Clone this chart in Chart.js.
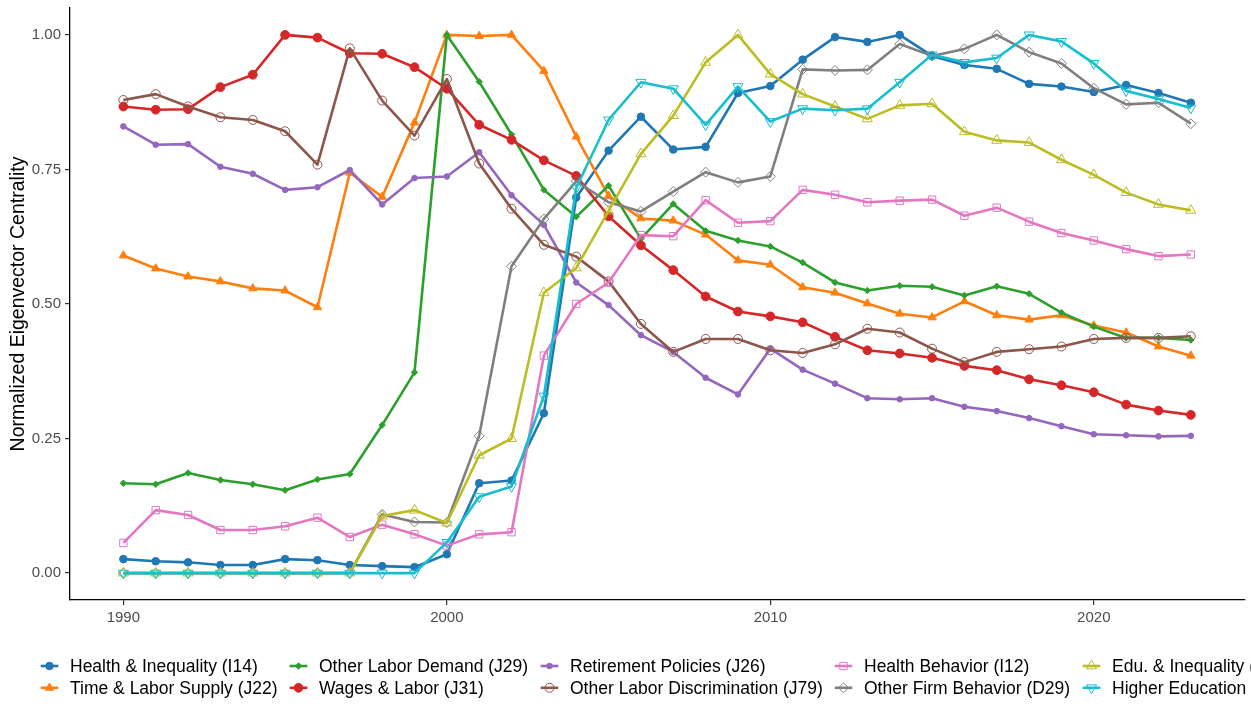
<!DOCTYPE html>
<html>
<head>
<meta charset="utf-8">
<script src="https://cdn.jsdelivr.net/npm/chart.js@4.4.0/dist/chart.umd.min.js"></script>
<style>
body{margin:0;background:#fff;}
#c{display:block;}
</style>
</head>
<body>
<canvas id="c" width="1251" height="708"></canvas>
<script>
const years = [1990,1991,1992,1993,1994,1995,1996,1997,1998,1999,2000,2001,2002,2003,2004,2005,2006,2007,2008,2009,2010,2011,2012,2013,2014,2015,2016,2017,2018,2019,2020,2021,2022,2023];

const names = ['Health & Inequality (I14)','Time & Labor Supply (J22)','Other Labor Demand (J29)','Wages & Labor (J31)','Retirement Policies (J26)','Other Labor Discrimination (J79)','Health Behavior (I12)','Other Firm Behavior (D29)','Edu. & Inequality (I24)','Higher Education (I23)'];

const healthIneq = [0.026,0.022,0.020,0.015,0.015,0.026,0.024,0.015,0.013,0.011,0.035,0.167,0.172,0.297,0.698,0.785,0.848,0.787,0.792,0.892,0.905,0.954,0.996,0.987,1.000,0.961,0.944,0.937,0.909,0.904,0.894,0.907,0.892,0.874];
const timeLabor = [0.590,0.566,0.551,0.542,0.529,0.525,0.494,0.744,0.699,0.837,1.000,0.998,1.000,0.933,0.811,0.701,0.659,0.655,0.629,0.581,0.573,0.531,0.521,0.501,0.482,0.475,0.505,0.479,0.471,0.479,0.460,0.447,0.421,0.404];
const otherDemand = [0.167,0.165,0.186,0.173,0.165,0.154,0.174,0.184,0.275,0.373,1.000,0.913,0.815,0.712,0.662,0.720,0.621,0.686,0.636,0.618,0.607,0.577,0.540,0.525,0.534,0.532,0.516,0.533,0.519,0.484,0.458,0.437,0.437,0.433];
const wages = [0.867,0.861,0.862,0.903,0.926,1.000,0.995,0.966,0.965,0.940,0.900,0.833,0.805,0.767,0.738,0.663,0.609,0.563,0.514,0.486,0.477,0.466,0.439,0.414,0.408,0.400,0.385,0.377,0.360,0.349,0.336,0.313,0.302,0.294];
const retirement = [0.830,0.796,0.797,0.755,0.742,0.712,0.717,0.749,0.685,0.734,0.737,0.782,0.702,0.647,0.540,0.498,0.442,0.411,0.363,0.332,0.417,0.378,0.352,0.325,0.323,0.325,0.309,0.301,0.288,0.273,0.258,0.256,0.254,0.255];
const otherDisc = [0.879,0.890,0.867,0.847,0.842,0.821,0.759,0.975,0.878,0.813,0.918,0.761,0.677,0.610,0.588,0.542,0.463,0.411,0.435,0.435,0.414,0.409,0.425,0.454,0.447,0.417,0.392,0.411,0.416,0.421,0.435,0.437,0.437,0.440];
const healthBeh = [0.056,0.117,0.108,0.080,0.080,0.087,0.103,0.067,0.090,0.072,0.051,0.072,0.076,0.404,0.500,0.540,0.628,0.626,0.693,0.651,0.654,0.712,0.703,0.689,0.692,0.694,0.664,0.679,0.653,0.632,0.618,0.602,0.589,0.592];
const otherFirm = [0,0,0,0,0,0,0,0,0.109,0.095,0.094,0.255,0.570,0.658,0.728,0.689,0.672,0.709,0.745,0.726,0.737,0.936,0.934,0.935,0.983,0.961,0.974,1.000,0.968,0.947,0.901,0.871,0.874,0.835];
const eduIneq = [0,0,0,0,0,0,0,0,0.106,0.117,0.093,0.219,0.250,0.521,0.567,0.673,0.779,0.850,0.949,1.000,0.927,0.890,0.867,0.844,0.869,0.872,0.820,0.804,0.800,0.768,0.740,0.707,0.685,0.674];
const higherEdu = [0,0,0,0,0,0,0,0,0,0,0.057,0.142,0.161,0.329,0.716,0.842,0.912,0.900,0.833,0.904,0.839,0.863,0.860,0.863,0.912,0.963,0.949,0.957,1.000,0.988,0.947,0.896,0.881,0.864];

const xTicks = [1990,2000,2010,2020];
const xTickLabels = ['1990','2000','2010','2020'];
const yTicks = [0,0.25,0.5,0.75,1];
const yTickLabels = ['0.00','0.25','0.50','0.75','1.00'];
const yTitle = 'Normalized Eigenvector Centrality';

const series = [healthIneq,timeLabor,otherDemand,wages,retirement,otherDisc,healthBeh,otherFirm,eduIneq,higherEdu];
const colors = ['#1f77b4','#ff7f0e','#2ca02c','#d62728','#9467bd','#8c564b','#e377c2','#7f7f7f','#bcbd22','#17becf'];
// marker look per series (ggplot shapes 16,17,18,19,20,1,0,5,2,6)
const markers = [
  {style:'circle', r:3.8, fill:true},
  {style:'triangle', r:4.8, fill:true},
  {style:'rectRot', r:3.2, fill:true},
  {style:'circle', r:4.4, fill:true},
  {style:'circle', r:2.8, fill:true},
  {style:'circle', r:4.5, fill:false},
  {style:'rect', r:5.2, fill:false},
  {style:'rectRot', r:5, fill:false},
  {style:'triangle', r:5.8, fill:false},
  {style:'triangle', r:5.8, fill:false, rot:180}
];

const FONT = '"Liberation Sans", Arial, Helvetica, sans-serif';
const legendTextX = [70, 319, 570, 864, 1112];
const legendKeyY = [666, 687.8];
const legendBaseY = [672.3, 694];

const datasets = series.map((vals, i) => ({
  label: names[i],
  data: vals.map((v, j) => ({x: years[j], y: v})),
  borderColor: colors[i],
  borderWidth: 2.6,
  borderJoinStyle: 'round',
  tension: 0,
  fill: false,
  pointStyle: markers[i].style,
  pointRadius: markers[i].r,
  pointRotation: markers[i].rot || 0,
  pointBackgroundColor: markers[i].fill ? colors[i] : 'rgba(0,0,0,0)',
  pointBorderColor: colors[i],
  pointBorderWidth: 1,
  order: series.length - i
}));

const overlay = {
  id: 'overlay',
  afterDraw(chart) {
    const ctx = chart.ctx;
    const ca = chart.chartArea;
    ctx.save();
    ctx.fillStyle = '#000';
    ctx.font = '19.5px ' + FONT;
    ctx.textAlign = 'center';
    ctx.textBaseline = 'alphabetic';
    ctx.translate(24, (ca.top + ca.bottom) / 2);
    ctx.rotate(-Math.PI / 2);
    ctx.fillText(yTitle, 0, 0);
    ctx.restore();

    chart.data.datasets.forEach((ds, i) => {
      const col = Math.floor(i / 2), row = i % 2;
      const tx = legendTextX[col];
      const cx = tx - 20.5, cy = legendKeyY[row];
      ctx.save();
      ctx.strokeStyle = ds.borderColor;
      ctx.lineWidth = ds.borderWidth;
      ctx.beginPath();
      ctx.moveTo(cx - 8.8, cy);
      ctx.lineTo(cx + 8.8, cy);
      ctx.stroke();
      ctx.fillStyle = ds.pointBackgroundColor;
      ctx.strokeStyle = ds.pointBorderColor;
      ctx.lineWidth = ds.pointBorderWidth;
      Chart.helpers.drawPoint(ctx, {
        pointStyle: ds.pointStyle, rotation: ds.pointRotation,
        radius: ds.pointRadius, borderWidth: ds.pointBorderWidth
      }, cx, cy);
      ctx.fillStyle = '#000';
      ctx.font = '17.5px ' + FONT;
      ctx.textAlign = 'left';
      ctx.textBaseline = 'alphabetic';
      ctx.fillText(ds.label, tx, legendBaseY[row]);
      ctx.restore();
    });
  }
};

new Chart(document.getElementById('c'), {
  type: 'line',
  data: {datasets: datasets},
  options: {
    responsive: false,
    animation: false,
    devicePixelRatio: 1,
    layout: {padding: {top: 8, right: 6.5, left: 0, bottom: 0}},
    plugins: {legend: {display: false}, tooltip: {enabled: false}},
    scales: {
      x: {
        type: 'linear', min: 1988.35, max: 2024.65,
        afterBuildTicks: s => { s.ticks = xTicks.map(v => ({value: v})); },
        afterFit: s => { s.height = 108; s.paddingLeft = 0; s.paddingRight = 0; },
        ticks: {
          callback: (v, idx) => xTickLabels[idx],
          font: {size: 15, family: FONT}, color: '#4d4d4d',
          padding: 4, maxRotation: 0, autoSkip: false
        },
        grid: {drawOnChartArea: false, drawTicks: true, tickLength: 5, color: '#333', lineWidth: 1.2},
        border: {color: '#000', width: 1.3}
      },
      y: {
        min: -0.05, max: 1.05,
        afterBuildTicks: s => { s.ticks = yTicks.map(v => ({value: v})); },
        afterFit: s => { s.width = 70; s.paddingTop = 0; s.paddingBottom = 0; },
        ticks: {
          callback: (v, idx) => yTickLabels[idx],
          font: {size: 15, family: FONT}, color: '#4d4d4d',
          padding: 4, autoSkip: false
        },
        grid: {drawOnChartArea: false, drawTicks: true, tickLength: 5, color: '#333', lineWidth: 1.2},
        border: {color: '#000', width: 1.3}
      }
    }
  },
  plugins: [overlay]
});
</script>
</body>
</html>
